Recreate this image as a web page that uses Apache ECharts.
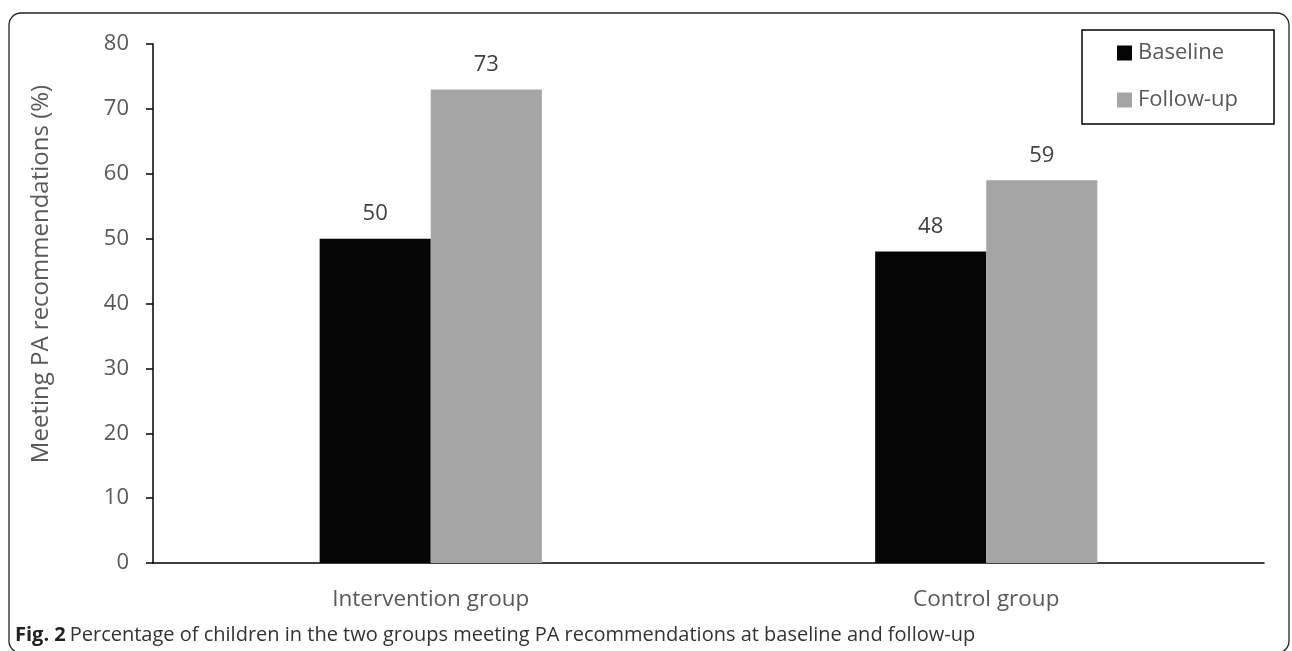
<!DOCTYPE html>
<html>
<head>
<meta charset="utf-8">
<script src="https://cdn.jsdelivr.net/npm/echarts@6/dist/echarts.min.js"></script>
<style>
html,body{margin:0;padding:0;background:#fff;}
#chart{width:1292px;height:651px;}
</style>
</head>
<body>
<div id="chart"></div>
<script>
const categories = ['Intervention group', 'Control group'];
const baseline = [50, 48];
const followUp = [73, 59];
const yTicks = [0, 10, 20, 30, 40, 50, 60, 70, 80];
const yTitle = 'Meeting PA recommendations (%)';

const FONT = '"Open Sans", sans-serif';
const chart = echarts.init(document.getElementById('chart'));
const labelStyle = {show: true, position: 'top', distance: 14, color: '#404040', fontSize: 22, fontFamily: FONT};
chart.setOption({
  animation: false,
  grid: {left: 153, right: 28, top: 44, bottom: 88},
  legend: {
    right: 18, top: 30, orient: 'vertical',
    padding: [12, 36, 13, 35],
    itemGap: 25,
    borderColor: '#000', borderWidth: 1.5,
    itemWidth: 15, itemHeight: 15, icon: 'rect',
    textStyle: {color: '#595959', fontSize: 22, fontFamily: FONT, padding: [0, 0, 0, 1]},
    data: ['Baseline', 'Follow-up']
  },
  xAxis: {
    type: 'category', data: categories,
    axisLine: {lineStyle: {color: '#000', width: 1.5}},
    axisTick: {show: false},
    axisLabel: {color: '#595959', fontSize: 22.5, fontFamily: FONT, margin: 25}
  },
  yAxis: {
    type: 'value', min: yTicks[0], max: yTicks[yTicks.length - 1], interval: 10,
    axisLine: {show: true, lineStyle: {color: '#000', width: 1.5}},
    axisTick: {show: true, length: 7, lineStyle: {color: '#000', width: 1.5}},
    axisLabel: {color: '#595959', fontSize: 22, fontFamily: FONT, margin: 24},
    splitLine: {show: false}
  },
  series: [
    {name: 'Baseline', type: 'bar', data: baseline, barWidth: '20%', barGap: '0%',
     itemStyle: {color: '#050505'}, label: labelStyle},
    {name: 'Follow-up', type: 'bar', data: followUp, barWidth: '20%', barGap: '0%',
     itemStyle: {color: '#a5a5a5'}, label: labelStyle}
  ],
  graphic: [
    {type: 'rect', shape: {x: 9, y: 13, width: 1280, height: 640, r: 12},
     style: {fill: 'none', stroke: '#222', lineWidth: 1.3}, silent: true, z: -1},
    {type: 'text', x: 41, y: 274, rotation: Math.PI / 2,
     style: {text: yTitle, fill: '#595959', fontSize: 24, fontFamily: FONT,
             align: 'center', verticalAlign: 'middle'}},
    {type: 'text', left: 15, top: 625,
     style: {rich: {b: {fontWeight: 'bold', fontSize: 20, fontFamily: FONT, fill: '#222', padding: [0, 4, 0, 0]},
                    n: {fontSize: 20, fontFamily: FONT, fill: '#333'}},
             text: '{b|Fig. 2}{n|Percentage of children in the two groups meeting PA recommendations at baseline and follow-up}'}}
  ]
});
</script>
</body>
</html>
